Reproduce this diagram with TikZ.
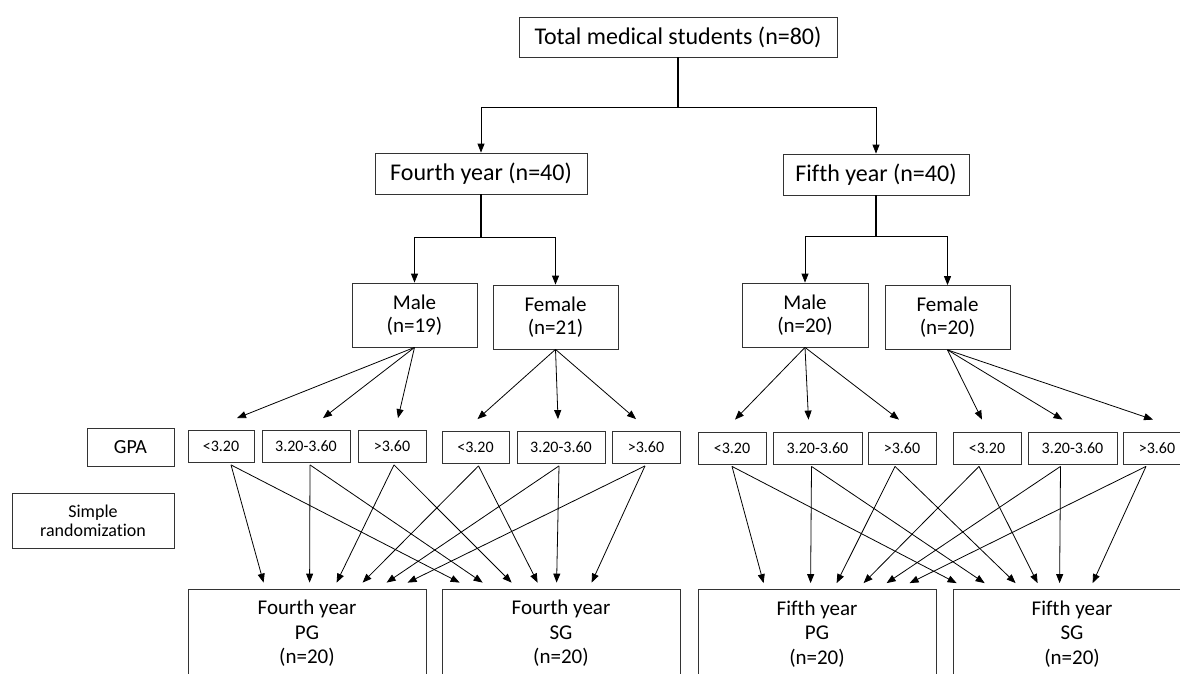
\documentclass[tikz,border=0pt]{standalone}
\usepackage{fontspec}
\setmainfont{Carlito}[Ligatures=NoCommon]
\usetikzlibrary{arrows.meta}
\usetikzlibrary{calc}

\tikzset{
  box/.style={draw=black!80, line width=0.8pt, inner sep=0pt, align=center},
  stem/.style={line width=1.4pt},
  arr/.style={-{Triangle[length=9pt,width=7pt]}, line width=0.8pt},
}

\begin{document}
\begin{tikzpicture}[x=1pt, y=-1pt]

    \useasboundingbox[fill=white] (0,0) rectangle (1180,673);

    % study population
    \node[box, minimum width=318, minimum height=40, font=\fontsize{24}{28}\selectfont] (total) at (678,37) {Total medical students (n=80)};
    \node[box, minimum width=212, minimum height=41, font=\fontsize{24}{28}\selectfont] (y4) at (481,173.5) {Fourth year (n=40)};
    \node[box, minimum width=186, minimum height=41, font=\fontsize{24}{28}\selectfont] (y5) at (876,174.5) {Fifth year (n=40)};

    \node[box, minimum width=125, minimum height=64, font=\fontsize{21}{23}\selectfont] (m4) at (414.5,315) {Male\\(n=19)};
    \node[box, minimum width=125, minimum height=64, font=\fontsize{21}{23}\selectfont] (f4) at (555.5,317) {Female\\(n=21)};
    \node[box, minimum width=126, minimum height=64, font=\fontsize{21}{23}\selectfont] (m5) at (805,315) {Male\\(n=20)};
    \node[box, minimum width=125, minimum height=64, font=\fontsize{21}{23}\selectfont] (f5) at (947.5,317.5) {Female\\(n=20)};

    % row labels
    \node[box, minimum width=87, minimum height=38, font=\fontsize{20}{24}\selectfont] (gpa) at (130.5,447) {GPA};
    \node[box, minimum width=162, minimum height=55, font=\fontsize{18}{19}\selectfont] (rand) at (93,520.5) {Simple\\randomization};

    % GPA strata
    \foreach \n/\x/\y/\w/\t in {g1/221/446.5/66/{<3.20}, g2/306/446.5/88/{3.20-3.60}, g3/392/446.5/68/{>3.60},
        g4/475.5/447.5/67/{<3.20}, g5/561/447.5/88/{3.20-3.60}, g6/646/447.5/68/{>3.60},
        g7/732/448/68/{<3.20}, g8/817.5/448/89/{3.20-3.60}, g9/902/448/68/{>3.60},
        g10/987/448/68/{<3.20}, g11/1072.5/448/89/{3.20-3.60}, g12/1157/448/68/{>3.60}}
        \node[box, minimum width=\w, minimum height=32, font=\fontsize{16}{19}\selectfont] (\n) at (\x,\y) {\t};

    % groups
    \node[box, minimum width=238, minimum height=89, font=\fontsize{21}{24.5}\selectfont] (pg4) at (307,633.5) {Fourth year\\PG\\(n=20)};
    \node[box, minimum width=238, minimum height=89, font=\fontsize{21}{24.5}\selectfont] (sg4) at (561,633.5) {Fourth year\\SG\\(n=20)};
    \node[box, minimum width=238, minimum height=89, font=\fontsize{21}{24.5}\selectfont] (pg5) at (817,634) {Fifth year\\PG\\(n=20)};
    \node[box, minimum width=238, minimum height=89, font=\fontsize{21}{24.5}\selectfont] (sg5) at (1072,634) {Fifth year\\SG\\(n=20)};

    % tree
    \coordinate (j0) at ($(total.south)+(0,50)$);
    \draw[stem] (total.south) -- (j0);
    \draw[stem] (j0 -| y4.north) -- (j0 -| y5.north);
    \draw[arr] (j0 -| y4.north) -- (y4.north);
    \draw[arr] (j0 -| y5.north) -- (y5.north);

    \coordinate (j4) at ($(y4.south)+(0,43)$);
    \draw[stem] (y4.south) -- (j4);
    \draw[stem] (j4 -| m4.north) -- (j4 -| f4.north);
    \draw[arr] (j4 -| m4.north) -- (m4.north);
    \draw[arr] (j4 -| f4.north) -- (f4.north);

    \coordinate (j5) at ($(y5.south)+(0,41)$);
    \draw[stem] (y5.south) -- (j5);
    \draw[stem] (j5 -| m5.north) -- (j5 -| f5.north);
    \draw[arr] (j5 -| m5.north) -- (m5.north);
    \draw[arr] (j5 -| f5.north) -- (f5.north);

    % sex -> GPA
    \foreach \s/\g/\dx in {m4/g1/16, m4/g2/17, m4/g3/6, f4/g4/2, f4/g5/-3, f4/g6/-10,
        m5/g7/3, m5/g8/-9, m5/g9/-3, f5/g10/-5, f5/g11/-10, f5/g12/-4}
        \draw[arr] (\s.south) -- ($(\g.north)+(\dx,-12)$);

    % GPA -> PG / SG
    \foreach \g/\sx/\p/\px/\q/\qx in {g1/10/pg4/76/sg4/18, g2/4/pg4/122/sg4/41, g3/2/pg4/149/sg4/70,
        g4/3/pg4/175/sg4/96, g5/-2/pg4/199/sg4/115, g6/-1/pg4/220/sg4/150,
        g7/0/pg5/66/sg5/4, g8/-6/pg5/113/sg5/32, g9/-7/pg5/139/sg5/63,
        g10/-8/pg5/166/sg5/85, g11/-12/pg5/189/sg5/107, g12/-11/pg5/212/sg5/140}
    {
        \draw[arr] ($(\g.south)+(\sx,2)$) -- ($(\p.north west)+(\px,-6)$);
        \draw[arr] ($(\g.south)+(\sx,2)$) -- ($(\q.north west)+(\qx,-6)$);
    }

\end{tikzpicture}
\end{document}
